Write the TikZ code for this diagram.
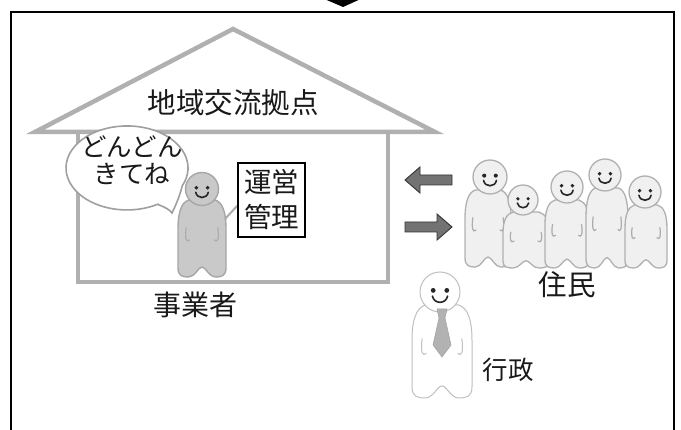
\documentclass[tikz,border=0pt]{standalone}
\usepackage{fontspec}
\setmainfont{Noto Sans CJK JP}

% body of a round-headed figure: style, centre x, top y, bottom y, half width
\newcommand\ghostbody[5]{%
  \pgfmathsetmacro\gh{#4-#3}%
  \path[#1] ({#2-0.55*#5},#3)
    .. controls ({#2-0.85*#5},{#3+0.03*\gh}) and ({#2-#5},{#3+0.15*\gh}) .. ({#2-#5},{#3+0.38*\gh})
    -- ({#2-#5},{#4-0.12*\gh})
    .. controls ({#2-#5},{#4-0.01*\gh}) and ({#2-0.8*#5},{#4}) .. ({#2-0.55*#5},{#4})
    .. controls ({#2-0.3*#5},{#4}) and ({#2-0.15*#5},{#4-0.13*\gh}) .. ({#2},{#4-0.13*\gh})
    .. controls ({#2+0.15*#5},{#4-0.13*\gh}) and ({#2+0.3*#5},{#4}) .. ({#2+0.55*#5},{#4})
    .. controls ({#2+0.8*#5},{#4}) and ({#2+#5},{#4-0.01*\gh}) .. ({#2+#5},{#4-0.12*\gh})
    -- ({#2+#5},{#3+0.38*\gh})
    .. controls ({#2+#5},{#3+0.15*\gh}) and ({#2+0.85*#5},{#3+0.03*\gh}) .. ({#2+0.55*#5},#3)
    -- cycle;}

% the two little hands: style, centre x, top y, bottom y, half width
\newcommand\ghostarms[5]{%
  \pgfmathsetmacro\gh{#4-#3}%
  \draw[#1] ({#2-0.66*#5},{#3+0.36*\gh}) .. controls ({#2-0.72*#5},{#3+0.5*\gh}) and ({#2-0.66*#5},{#3+0.56*\gh}) .. ({#2-0.52*#5},{#3+0.52*\gh});
  \draw[#1] ({#2+0.66*#5},{#3+0.36*\gh}) .. controls ({#2+0.72*#5},{#3+0.5*\gh}) and ({#2+0.66*#5},{#3+0.56*\gh}) .. ({#2+0.52*#5},{#3+0.52*\gh});}

% head with eyes and smile: head style, centre x, centre y, radius
\newcommand\ghosthead[4]{%
  \path[#1] (#2,#3) circle[radius=#4];
  \fill[black!85] ({#2-0.34*#4},{#3-0.08*#4}) circle[radius={0.12*#4}];
  \fill[black!85] ({#2+0.34*#4},{#3-0.08*#4}) circle[radius={0.12*#4}];
  \draw[black!85, line width=1.6pt, line cap=round]
    ({#2-0.38*#4},{#3+0.2*#4}) .. controls ({#2-0.3*#4},{#3+0.62*#4}) and ({#2+0.3*#4},{#3+0.62*#4}) .. ({#2+0.38*#4},{#3+0.2*#4});}

\begin{document}
\begin{tikzpicture}[x=1pt, y=-1pt,
  lbl/.style={inner sep=0pt, text=black!90, font=\fontsize{27}{30}\selectfont},
  wall/.style={draw=gray!62, line width=4.5pt, line join=miter, line cap=square},
  owner/.style={fill=gray!42, draw=gray!70, line width=1.4pt},
  resident/.style={fill=gray!12, draw=gray!62, line width=1.3pt},
  official/.style={fill=white, draw=gray!50, line width=1pt},
  blockarrow/.style={fill=black!55, draw=black!80, line width=0.9pt, line join=miter},
  hand/.style={draw=gray!65, line width=1.2pt, line cap=round}]
\useasboundingbox (0,0) rectangle (681,430);
\clip (0,0) rectangle (681,430);

% outer frame and the tip of the arrow above it
\fill[black] (322,-2) -- (363,-2) -- (343,7) -- cycle;
\draw[black, line width=2.5pt] (11,12) rectangle (674,450);

% house: roof and walls
\draw[wall] (78,134) -- (78,282) -- (388,282) -- (388,134);
\draw[wall] (35,132) -- (233,29) -- (435,132) -- cycle;
\node[lbl, font=\fontsize{28.5}{32}\selectfont] (hub) at (233,103) {地域交流拠点};

% speech bubble
\draw[fill=white, draw=gray!75, line width=1.6pt]
  (157.5,204.4) .. controls (165,207) and (170,210) .. (172,213)
  .. controls (176,205) and (180,195) .. (182.3,185.7)
  arc[start angle=25, end angle=-300, x radius=61, y radius=42] -- cycle;
\node[lbl, align=center, font=\fontsize{25.5}{27}\selectfont] (talk) at (132,160) {どんどん\\きてね};

% operator with pointer and board
\ghostbody{owner}{202}{200}{277}{24}
\ghostarms{hand}{202}{200}{277}{24}
\ghosthead{owner}{202}{189}{16.5}
\draw[gray!65, line width=2pt, line cap=round] (225,219) -- (237,206);
\node[lbl, draw=black, line width=1.4pt, minimum width=67pt, minimum height=74pt,
      align=center, font=\fontsize{27.5}{35}\selectfont] (mgmt) at (271.5,200) {運営\\管理};
\node[lbl, font=\fontsize{28}{30}\selectfont] (operator) at (195,305) {事業者};

% two-way exchange
\draw[blockarrow] (405,180) -- (420,167) -- (420,175) -- (452,175) -- (452,185) -- (420,185) -- (420,193) -- cycle;
\draw[blockarrow] (452,227) -- (437,214) -- (437,222) -- (405,222) -- (405,232) -- (437,232) -- (437,240) -- cycle;

% residents
\ghostbody{resident}{488}{190}{267}{23}
\ghostarms{hand}{488}{190}{267}{23}
\ghosthead{resident}{490}{177}{17}
\ghostbody{resident}{526}{212}{268}{23}
\ghostarms{hand}{526}{212}{268}{23}
\ghosthead{resident}{523}{200}{15}
\ghostbody{resident}{567}{200}{268}{22}
\ghostarms{hand}{567}{200}{268}{22}
\ghosthead{resident}{567}{187}{16}
\ghostbody{resident}{607}{188}{268}{21}
\ghostarms{hand}{607}{188}{268}{21}
\ghosthead{resident}{605}{175}{16}
\ghostbody{resident}{646}{205}{268}{21}
\ghostarms{hand}{646}{205}{268}{21}
\ghosthead{resident}{645}{192}{16}
\node[lbl, font=\fontsize{28.5}{30}\selectfont] (residents) at (567,285) {住民};

% administration
\ghostbody{official}{442}{305}{398}{30}
\ghostarms{draw=gray!50, line width=1pt}{442}{305}{398}{30}
\ghosthead{official}{440}{292}{20}
\draw[fill=gray!60, draw=gray!70, line width=0.6pt]
  (437,309) -- (447,309) -- (445,318) -- (451,345) -- (442,357) -- (433,345) -- (439,318) -- cycle;
\node[lbl, font=\fontsize{25.5}{28}\selectfont] (admin) at (508,370) {行政};
\end{tikzpicture}
\end{document}
